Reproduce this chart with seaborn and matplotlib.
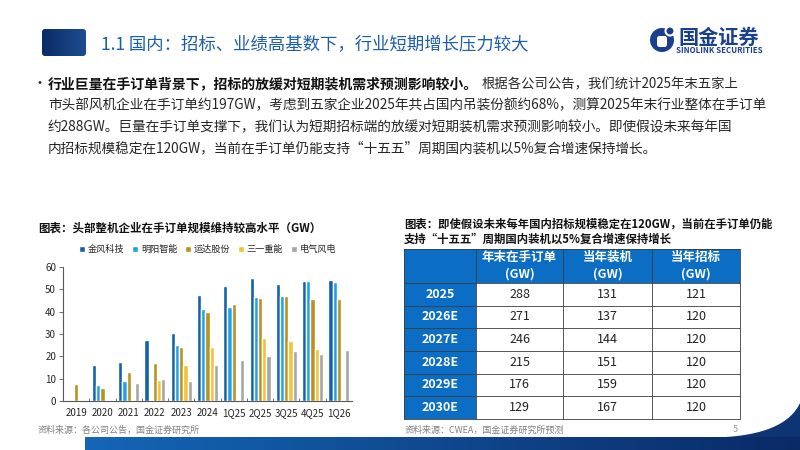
import numpy as np
import pandas as pd
import matplotlib
matplotlib.use("Agg")
import matplotlib.pyplot as plt
import seaborn as sns
from matplotlib.patches import Rectangle, FancyBboxPatch, Polygon, Circle
from matplotlib.colors import LinearSegmentedColormap

nan = np.nan
# ---------------- data ----------------
periods = ['2019', '2020', '2021', '2022', '2023', '2024', '1Q25', '2Q25', '3Q25', '4Q25', '1Q26']
companies = ['金风科技', '明阳智能', '运达股份', '三一重能', '电气风电']
goldwind = [nan, 16.3, 17.6, 27.2, 30.6, 47.6, 51.3, 54.9, 52.5, 53.9, 54.0]
mingyang = [nan, 7.0, 8.8, nan, 25.0, 41.0, 42.1, 46.4, 46.9, 53.7, 53.1]
windey = [7.5, 6.0, 12.8, 16.9, 24.0, 40.0, 43.6, 46.0, 46.9, 45.7, 45.7]
sany = [nan, nan, nan, 9.3, 16.1, 24.0, nan, 28.0, 27.0, 23.1, nan]
shanghai = [nan, nan, 7.9, 9.7, 8.8, 16.1, 18.2, 20.0, 22.2, 20.9, 22.7]
yticks = [0, 10, 20, 30, 40, 50, 60]

table_years = ['2025', '2026E', '2027E', '2028E', '2029E', '2030E']
backlog = [288, 271, 246, 215, 176, 129]
install = [131, 137, 144, 151, 159, 167]
tender = [121, 120, 120, 120, 120, 120]
table_header = ['年末在手订单\n(GW)', '当年装机\n(GW)', '当年招标\n(GW)']

title = '1.1 国内：招标、业绩高基数下，行业短期增长压力较大'
body_bold = '行业巨量在手订单背景下，招标的放缓对短期装机需求预测影响较小。'
body_line1 = '根据各公司公告，我们统计2025年末五家上'
body_lines = ['市头部风机企业在手订单约197GW，考虑到五家企业2025年共占国内吊装份额约68%，测算2025年末行业整体在手订单',
              '约288GW。巨量在手订单支撑下，我们认为短期招标端的放缓对短期装机需求预测影响较小。即使假设未来每年国',
              '内招标规模稳定在120GW，当前在手订单仍能支持“十五五”周期国内装机以5%复合增速保持增长。']
chart_title = '图表：头部整机企业在手订单规模维持较高水平（GW）'
table_title = ['图表：即使假设未来每年国内招标规模稳定在120GW，当前在手订单仍能',
               '支持“十五五”周期国内装机以5%复合增速保持增长']
src_left = '资料来源：各公司公告，国金证券研究所'
src_right = '资料来源：CWEA，国金证券研究所预测'

# ---------------- style ----------------
sns.set_theme(style='white')
plt.rcParams['font.family'] = ['Noto Sans CJK SC', 'DejaVu Sans']
plt.rcParams['axes.unicode_minus'] = False

colors = ['#1461AA', '#1CA3E3', '#B8921E', '#F4C232', '#A6A6A6']
navy = '#0E3474'
tblue = '#0B6DC4'

fig = plt.figure(figsize=(8, 4.5), dpi=100)
bg = fig.add_axes([0, 0, 1, 1])
bg.axis('off')

def hgrad(x0, x1, y0, y1, c0, c1, clip=None, z=1):
    cm = LinearSegmentedColormap.from_list('g', [c0, c1])
    g = np.linspace(0, 1, 256).reshape(1, -1)
    im = bg.imshow(g, extent=[x0, x1, y1, y0], cmap=cm, aspect='auto', zorder=z, interpolation='bilinear')
    if clip is not None:
        im.set_clip_path(clip)
    return im

# header block
hdr = FancyBboxPatch((42, 29), 44, 27, boxstyle='round,pad=0,rounding_size=3', fc='none', ec='none')
bg.add_patch(hdr)
hgrad(42, 86, 29, 56, '#0B2B66', '#1E4D90', clip=hdr)

# bottom band and swoosh
hgrad(85, 800, 437, 450, '#1466B6', '#0A2A66', z=1)
t = np.linspace(0, 1, 40)
p0, p1, p2 = np.array([726, 437]), np.array([786, 433]), np.array([800, 403])
curve = ((1 - t) ** 2)[:, None] * p0 + (2 * (1 - t) * t)[:, None] * p1 + (t ** 2)[:, None] * p2
pts = np.vstack([curve, [[800, 437]]])
bg.add_patch(Polygon(pts, closed=True, fc=navy, ec='none', zorder=1))

bg.set_xlim(0, 800)
bg.set_ylim(450, 0)
bg.set_autoscale_on(False)

bg.text(101, 45.5, title, fontsize=12.5, color='#1B5DAA', va='center', ha='left')

# logo
bg.add_patch(Circle((662, 40), 12, fc='#1B3F8F', ec='none', zorder=3))
bg.add_patch(FancyBboxPatch((657, 36), 10, 11, boxstyle='round,pad=0,rounding_size=2.5', fc='white', ec='none', zorder=4))
bg.add_patch(Circle((670, 31), 4.5, fc='#1B3F8F', ec='white', lw=1.5, zorder=5))
bg.text(678, 37, '国金证券', fontsize=14.5, fontweight='bold', color='#1B3F8F', va='center', ha='left')
bg.text(676, 50.5, 'SINOLINK SECURITIES', fontsize=5.7, fontweight='bold', color='#1B3F8F', va='center', ha='left')

# body text
bg.text(32, 84, '•', fontsize=10, color='#262626', va='center', ha='left')
ys = [84, 105.5, 127, 148.5]
fs_body = 10
tb = bg.text(48, ys[0], body_bold, fontsize=fs_body, fontweight='bold', color='#111111', va='center', ha='left')
fig.canvas.draw()
r = fig.canvas.get_renderer()
bb = tb.get_window_extent(renderer=r)
x_end = bg.transData.inverted().transform((bb.x1, bb.y0))[0]
bg.text(x_end + 3, ys[0], body_line1, fontsize=9.6, color='#262626', va='center', ha='left')
for y, line in zip(ys[1:], body_lines):
    bg.text(48, y, line, fontsize=9.85, color='#262626', va='center', ha='left')

# chart title & sources
bg.text(38, 228, chart_title, fontsize=8.3, fontweight='bold', color='#111111', va='center', ha='left')
bg.text(38, 430, src_left, fontsize=6.5, color='#808080', va='center', ha='left')
bg.text(405, 430, src_right, fontsize=6.5, color='#808080', va='center', ha='left')
bg.text(733, 429, '5', fontsize=6.5, color='#999999', va='center', ha='left')

# table title
bg.text(404, 224, table_title[0], fontsize=8.2, fontweight='bold', color='#111111', va='center', ha='left')
bg.text(404, 239, table_title[1], fontsize=8.2, fontweight='bold', color='#111111', va='center', ha='left')

# table
cols = [404, 476, 563, 652, 740]
top, hbot, bot = 249, 283, 419
rh = (bot - hbot) / len(table_years)
bg.add_patch(Rectangle((cols[0], top), cols[-1] - cols[0], hbot - top, fc=tblue, ec='none', zorder=2))
bg.add_patch(Rectangle((cols[0], hbot), cols[1] - cols[0], bot - hbot, fc=tblue, ec='none', zorder=2))
for j, h in enumerate(table_header):
    bg.text((cols[j + 1] + cols[j + 2]) / 2, (top + hbot) / 2, h, fontsize=9, fontweight='bold', color='white',
            ha='center', va='center', linespacing=1.35, zorder=4)
table_vals = [backlog, install, tender]
for i, yr in enumerate(table_years):
    yc = hbot + rh * (i + 0.5)
    bg.text((cols[0] + cols[1]) / 2, yc, yr, fontsize=9, fontweight='bold', color='white', ha='center', va='center', zorder=4)
    for j, vals in enumerate(table_vals):
        bg.text((cols[j + 1] + cols[j + 2]) / 2, yc, str(vals[i]), fontsize=9, color='#222222', ha='center', va='center', zorder=4)
for i in range(len(table_years) + 1):
    y = hbot + rh * i
    bg.plot([cols[0], cols[-1]], [y, y], color='#3C3C3C', lw=0.6, zorder=3)
for x in cols:
    bg.plot([x, x], [top, bot], color='#3C3C3C', lw=0.6, zorder=3)
bg.plot([cols[0], cols[-1]], [top, top], color='#3C3C3C', lw=0.6, zorder=3)

# ---------------- bar chart ----------------
series = [goldwind, mingyang, windey, sany, shanghai]
rows = []
for c, vals in zip(companies, series):
    for p, v in zip(periods, vals):
        rows.append({'period': p, 'company': c, 'value': v})
df = pd.DataFrame(rows).dropna()

ax = fig.add_axes([63 / 800, 49 / 450, 289 / 800, 134 / 450])
sns.barplot(data=df, x='period', y='value', hue='company', order=periods, hue_order=companies,
            palette=colors, saturation=1, width=0.8, errorbar=None, ax=ax)
ax.set_xlim(-0.5, len(periods) - 0.5)
ax.set_ylim(0, 60)
ax.set_yticks(yticks)
ax.set_xlabel('')
ax.set_ylabel('')
ax.set_facecolor('none')
for s in ['top', 'right']:
    ax.spines[s].set_visible(False)
for s in ['left', 'bottom']:
    ax.spines[s].set_color('#595959')
    ax.spines[s].set_linewidth(0.8)
ax.tick_params(axis='y', labelsize=7, length=3, width=0.6, color='#595959', left=True, pad=2, labelcolor='#262626')
ax.tick_params(axis='x', labelsize=7, length=0, pad=5, labelcolor='#262626')
ax.set_xticks(np.arange(0.5, len(periods) - 0.5, 1), minor=True)
ax.tick_params(axis='x', which='minor', direction='in', length=2.5, width=0.6, color='#595959', bottom=True)
ax.grid(False)
leg = ax.legend(loc='center', bbox_to_anchor=(0.5, 1.13), ncol=5, frameon=False, fontsize=6.6,
                handlelength=0.7, handleheight=0.7, handletextpad=0.3, columnspacing=0.8, borderaxespad=0)
for txt in leg.get_texts():
    txt.set_color('#262626')

fig.savefig('out.png', dpi=100)
